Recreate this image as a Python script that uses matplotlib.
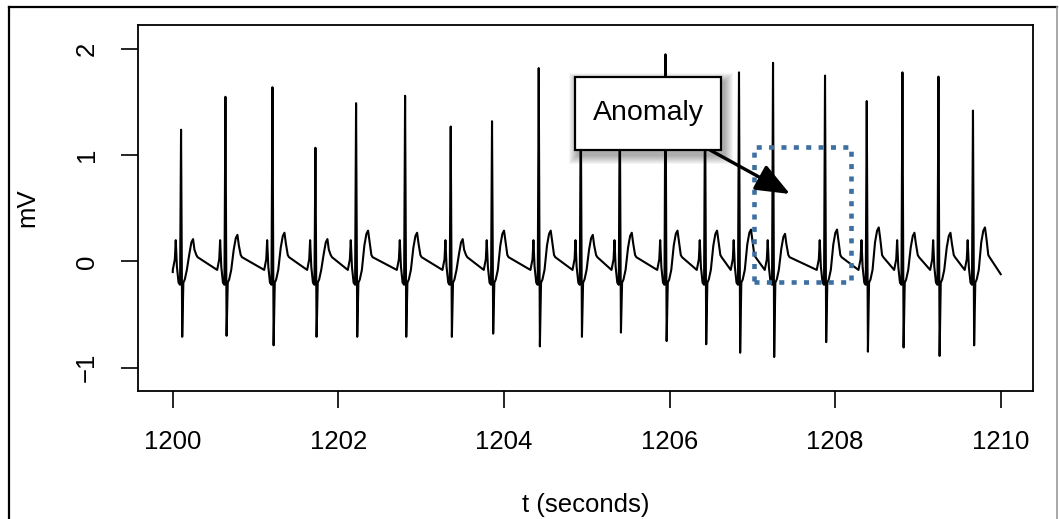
import matplotlib
matplotlib.use('Agg')
import matplotlib.pyplot as plt
from matplotlib.patches import Rectangle
from matplotlib.lines import Line2D

plt.rcParams['font.family'] = ['Liberation Sans', 'DejaVu Sans']

# ---------------- data ----------------
# R peak times (s) and amplitudes (mV) for every beat
beat_t = [1200.100, 1200.636, 1201.204, 1201.723, 1202.214, 1202.806,
          1203.357, 1203.856, 1204.420, 1204.928, 1205.399, 1205.951,
          1206.429, 1206.839, 1207.250, 1207.878, 1208.382, 1208.813,
          1209.248, 1209.665]
r_amp = [1.24, 1.55, 1.64, 1.07, 1.49, 1.56, 1.27, 1.32, 1.82, 1.50,
         1.55, 1.95, 1.60, 1.78, 1.87, 1.75, 1.51, 1.78, 1.74, 1.42]
s_amp = [-0.71, -0.70, -0.79, -0.71, -0.71, -0.71, -0.71, -0.68, -0.80, -0.71,
         -0.67, -0.75, -0.78, -0.86, -0.90, -0.76, -0.85, -0.81, -0.89, -0.79]
t_amp = [0.21, 0.25, 0.27, 0.21, 0.29, 0.27, 0.21, 0.29, 0.29, 0.25,
         0.27, 0.29, 0.29, 0.30, 0.26, 0.30, 0.32, 0.27, 0.27, 0.32]

# shape of one beat around the R peak (offset s, mV)
pre_off = [-0.100, -0.075, -0.064, -0.050, -0.030, -0.012]
pre_val = [-0.08, 0.02, 0.20, -0.05, -0.20, -0.22]
post_off = [0.028, 0.045, 0.070, 0.100, 0.125, 0.145, 0.162, 0.185, 0.200]
post_rel = [-0.20, -0.17, -0.08, -0.14, -0.03, 0.0, -0.10, 0.06, 0.04]
post_is_t = [False, False, False, True, True, True, True, False, False]

start_t, start_v = 1200.0, -0.10
end_t, end_v = 1210.0, -0.12

x_ticks = [1200, 1202, 1204, 1206, 1208, 1210]
y_ticks = [-1, 0, 1, 2]

# anomaly window (data units)
box_t0, box_t1 = 1207.02, 1208.19
box_v0, box_v1 = -0.198, 1.075

# ---------------- build trace ----------------
t = [start_t]
v = [start_v]
for i in range(len(beat_t)):
    for o, val in zip(pre_off, pre_val):
        t.append(beat_t[i] + o)
        v.append(val)
    t.append(beat_t[i])
    v.append(r_amp[i])
    t.append(beat_t[i] + 0.014)
    v.append(s_amp[i])
    for o, val, is_t in zip(post_off, post_rel, post_is_t):
        t.append(beat_t[i] + o)
        v.append(t_amp[i] + val if is_t else val)
t.append(end_t)
v.append(end_v)

# ---------------- plot ----------------
W, H = 1059, 519
fig = plt.figure(figsize=(W / 100, H / 100), dpi=100)
ax = fig.add_axes([138 / W, 1 - 391 / H, (1033 - 138) / W, (391 - 25) / H])

ax.plot(t, v, color='black', lw=1.5)
ax.set_xlim(1199.58, 1210.39)
ax.set_ylim(-1.22, 2.226)
ax.set_xticks(x_ticks)
ax.set_yticks(y_ticks)
ax.set_yticklabels([str(y) if y >= 0 else '\u2212' + str(-y) for y in y_ticks],
                   rotation=90, va='center')
ax.tick_params(length=12, width=1.2, labelsize=18.5, pad=16)
for s in ax.spines.values():
    s.set_linewidth(1.3)
ax.set_xlabel('t (seconds)', fontsize=18.5, labelpad=28)
ax.set_ylabel('mV', fontsize=18.5, labelpad=26)

ax.add_patch(Rectangle((box_t0, box_v0), box_t1 - box_t0, box_v1 - box_v0,
                       fill=False, ec='#3d6fa0', lw=3.3,
                       linestyle=(0, (1.1, 1.6)), zorder=5))

# outer frame of the picture
fig.add_artist(Line2D([9 / W, 9 / W], [0, 1 - 7 / H], transform=fig.transFigure,
                      color='black', lw=1.6))
fig.add_artist(Line2D([9 / W, 1057 / W], [1 - 7 / H, 1 - 7 / H],
                      transform=fig.transFigure, color='black', lw=1.6))
fig.add_artist(Line2D([1057 / W, 1057 / W], [0, 1 - 7 / H],
                      transform=fig.transFigure, color='#999999', lw=1.2))

# callout box with a soft shadow
bx, by, bw, bh = 575, 150, 146, 73
for k in range(9, 0, -1):
    fig.add_artist(Rectangle(((bx - k + 3) / W, 1 - (by + 5 + k) / H),
                             (bw + 2 * k) / W, (bh + 2 * k) / H,
                             transform=fig.transFigure, fc='black', ec='none',
                             alpha=0.04, zorder=9))
fig.add_artist(Rectangle((bx / W, 1 - by / H), bw / W, bh / H,
                         transform=fig.transFigure, fc='white', ec='black',
                         lw=1.6, zorder=10))
fig.text((bx + bw / 2) / W, 1 - (by - bh / 2) / H, 'Anomaly', fontsize=20.5,
         ha='center', va='center', zorder=11)

ax.annotate('', xy=(790, H - 194), xycoords='figure pixels',
            xytext=(710, H - 150), textcoords='figure pixels',
            arrowprops=dict(arrowstyle='-|>,head_length=2.1,head_width=0.85',
                            mutation_scale=10, lw=2.4, color='black',
                            shrinkA=0, shrinkB=0), zorder=11)

fig.savefig('out.png', dpi=100)
